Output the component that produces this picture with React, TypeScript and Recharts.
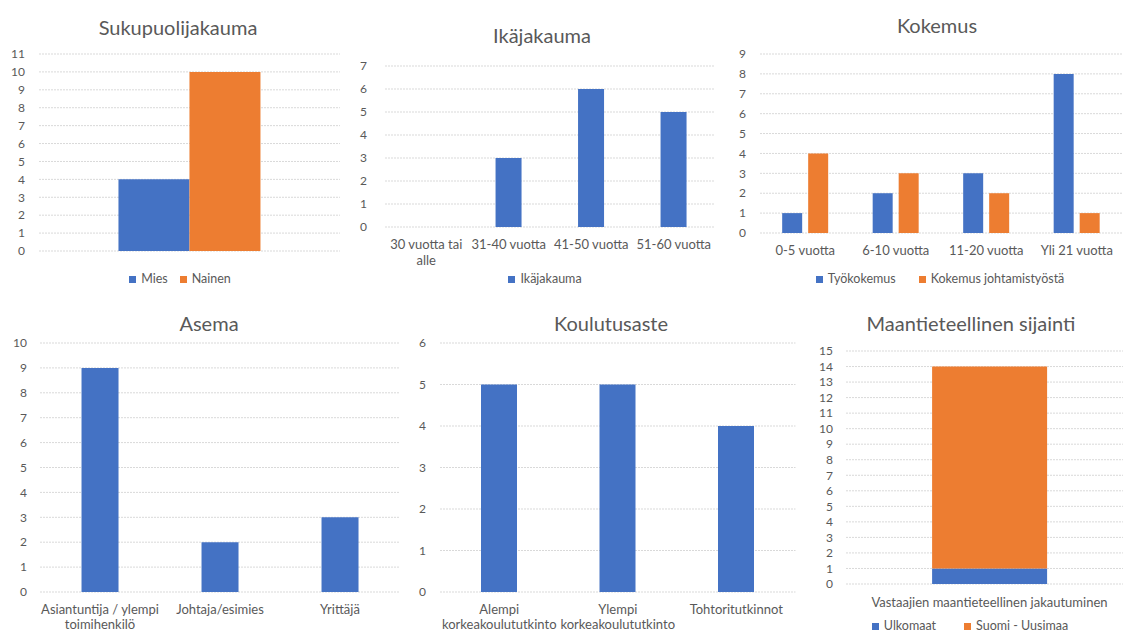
import React from "react";
import { BarChart, Bar, XAxis, YAxis, CartesianGrid } from "recharts";

const BLUE = "#4472C4";
const ORANGE = "#ED7D31";
const TEXT = "#595959";
const GRID = "#D9D9D9";
const FONT = "Lato, Carlito, Calibri, sans-serif";

// Sukupuolijakauma
const genderSeries = ["Mies", "Nainen"];
const genderValues = [4, 10];
const genderTicks = [0, 1, 2, 3, 4, 5, 6, 7, 8, 9, 10, 11];

// Ikäjakauma
const ageCategories = ["30 vuotta tai\nalle", "31-40 vuotta", "41-50 vuotta", "51-60 vuotta"];
const ageValues = [0, 3, 6, 5];
const ageTicks = [0, 1, 2, 3, 4, 5, 6, 7];

// Kokemus
const expCategories = ["0-5 vuotta", "6-10 vuotta", "11-20 vuotta", "Yli 21 vuotta"];
const expSeries = ["Työkokemus", "Kokemus johtamistyöstä"];
const workExp = [1, 2, 3, 8];
const leadExp = [4, 3, 2, 1];
const expTicks = [0, 1, 2, 3, 4, 5, 6, 7, 8, 9];

// Asema
const roleCategories = ["Asiantuntija / ylempi\ntoimihenkilö", "Johtaja/esimies", "Yrittäjä"];
const roleValues = [9, 2, 3];
const roleTicks = [0, 1, 2, 3, 4, 5, 6, 7, 8, 9, 10];

// Koulutusaste
const eduCategories = ["Alempi\nkorkeakoulututkinto", "Ylempi\nkorkeakoulututkinto", "Tohtoritutkinnot"];
const eduValues = [5, 5, 4];
const eduTicks = [0, 1, 2, 3, 4, 5, 6];

// Maantieteellinen sijainti
const geoCategories = ["Vastaajien maantieteellinen jakautuminen"];
const geoSeries = ["Ulkomaat", "Suomi - Uusimaa"];
const geoAbroad = [1];
const geoUusimaa = [13];
const geoTicks = [0, 1, 2, 3, 4, 5, 6, 7, 8, 9, 10, 11, 12, 13, 14, 15];

const genderData = [{ name: "", Mies: genderValues[0], Nainen: genderValues[1] }];
const ageData = ageCategories.map((name, i) => ({ name, value: ageValues[i] }));
const expData = expCategories.map((name, i) => ({ name, work: workExp[i], lead: leadExp[i] }));
const roleData = roleCategories.map((name, i) => ({ name, value: roleValues[i] }));
const eduData = eduCategories.map((name, i) => ({ name, value: eduValues[i] }));
const geoData = geoCategories.map((name, i) => ({ name, abroad: geoAbroad[i], uusimaa: geoUusimaa[i] }));

function WrapTick({ x, y, payload, lineGap = 16 }: any) {
  const lines = String(payload.value).split("\n");
  return (
    <text x={x} y={y} textAnchor="middle" fill={TEXT} fontSize={13} fontFamily={FONT}>
      {lines.map((l, i) => (
        <tspan key={i} x={x} dy={i === 0 ? "0.71em" : lineGap}>
          {l}
        </tspan>
      ))}
    </text>
  );
}

function axes(ticks: number[], yWidth: number, yTickMargin: number, xHeight: number, xTickMargin: number, showX = true, lineGap = 16) {
  return [
    <CartesianGrid key="g" vertical={false} stroke={GRID} strokeDasharray="2 1" />,
    <XAxis
      key="x"
      dataKey="name"
      height={xHeight}
      axisLine={false}
      tickLine={false}
      tickSize={0}
      tickMargin={xTickMargin}
      interval={0}
      tick={showX ? <WrapTick lineGap={lineGap} /> : false}
    />,
    <YAxis
      key="y"
      width={yWidth}
      domain={[0, ticks[ticks.length - 1]]}
      ticks={ticks}
      interval={0}
      axisLine={false}
      tickLine={false}
      tickSize={0}
      tickMargin={yTickMargin}
      tick={{ fill: TEXT, fontSize: 12, fontFamily: FONT }}
    />,
  ];
}

function Title({ text, cx, cy }: { text: string; cx: number; cy: number }) {
  return (
    <div
      style={{
        position: "absolute",
        left: cx - 200,
        top: cy - 12,
        width: 400,
        textAlign: "center",
        fontSize: 20,
        lineHeight: "24px",
        color: TEXT,
      }}
    >
      {text}
    </div>
  );
}

function LegendRow({ items, cx, cy, gap }: { items: { name: string; color: string }[]; cx: number; cy: number; gap: number }) {
  return (
    <div
      style={{
        position: "absolute",
        left: cx - 300,
        top: cy - 8,
        width: 600,
        display: "flex",
        justifyContent: "center",
        alignItems: "center",
        fontSize: 12.5,
        lineHeight: "16px",
        color: TEXT,
      }}
    >
      {items.map((it, i) => (
        <div key={it.name} style={{ display: "flex", alignItems: "center", marginLeft: i === 0 ? 0 : gap }}>
          <span style={{ width: 7, height: 7, background: it.color, marginRight: 5, display: "inline-block" }} />
          <span>{it.name}</span>
        </div>
      ))}
    </div>
  );
}

function Box({ left, top, children }: { left: number; top: number; children: React.ReactNode }) {
  return <div style={{ position: "absolute", left, top }}>{children}</div>;
}

export default function App() {
  return (
    <div
      style={{
        position: "absolute",
        left: 0,
        top: 0,
        width: 1123,
        height: 633,
        overflow: "hidden",
        background: "#ffffff",
        fontFamily: FONT,
      }}
    >
      {/* Sukupuolijakauma */}
      <Title text="Sukupuolijakauma" cx={178} cy={27} />
      <Box left={0} top={40}>
        <BarChart width={340} height={231} data={genderData} margin={{ top: 14, right: 0, bottom: 0, left: 0 }} barCategoryGap="26.4%" barGap={0}>
          {axes(genderTicks, 39, 14, 20, 0, false)}
          <Bar dataKey="Mies" fill={BLUE} isAnimationActive={false} />
          <Bar dataKey="Nainen" fill={ORANGE} isAnimationActive={false} />
        </BarChart>
      </Box>
      <LegendRow items={[{ name: genderSeries[0], color: BLUE }, { name: genderSeries[1], color: ORANGE }]} cx={180} cy={279} gap={12} />

      {/* Ikäjakauma */}
      <Title text="Ikäjakauma" cx={542} cy={35} />
      <Box left={345} top={50}>
        <BarChart width={370} height={217} data={ageData} margin={{ top: 16, right: 0, bottom: 0, left: 0 }} barCategoryGap="34%">
          {axes(ageTicks, 40, 18, 40, 13)}
          <Bar dataKey="value" fill={BLUE} isAnimationActive={false} />
        </BarChart>
      </Box>
      <LegendRow items={[{ name: "Ikäjakauma", color: BLUE }]} cx={545} cy={279} gap={0} />

      {/* Kokemus */}
      <Title text="Kokemus" cx={937} cy={25} />
      <Box left={720} top={40}>
        <BarChart width={402} height={223} data={expData} margin={{ top: 14, right: 0, bottom: 0, left: 0 }} barCategoryGap="24.5%" barGap={6}>
          {axes(expTicks, 40, 14, 30, 13)}
          <Bar dataKey="work" fill={BLUE} isAnimationActive={false} />
          <Bar dataKey="lead" fill={ORANGE} isAnimationActive={false} />
        </BarChart>
      </Box>
      <LegendRow items={[{ name: expSeries[0], color: BLUE }, { name: expSeries[1], color: ORANGE }]} cx={940} cy={279} gap={23} />

      {/* Asema */}
      <Title text="Asema" cx={209} cy={323} />
      <Box left={0} top={330}>
        <BarChart width={400} height={303} data={roleData} margin={{ top: 13, right: 0, bottom: 0, left: 0 }} barCategoryGap="34.6%">
          {axes(roleTicks, 40, 13, 41, 13, true, 15)}
          <Bar dataKey="value" fill={BLUE} isAnimationActive={false} />
        </BarChart>
      </Box>

      {/* Koulutusaste */}
      <Title text="Koulutusaste" cx={611} cy={323} />
      <Box left={400} top={330}>
        <BarChart width={395.5} height={303} data={eduData} margin={{ top: 13, right: 0, bottom: 0, left: 0 }} barCategoryGap="34.6%">
          {axes(eduTicks, 40, 14, 41, 13, true, 15)}
          <Bar dataKey="value" fill={BLUE} isAnimationActive={false} />
        </BarChart>
      </Box>

      {/* Maantieteellinen sijainti */}
      <Title text="Maantieteellinen sijainti" cx={971} cy={323} />
      <Box left={800} top={330}>
        <BarChart width={333} height={284} data={geoData} margin={{ top: 21, right: 0, bottom: 0, left: 0 }} barCategoryGap="30%">
          {axes(geoTicks, 46, 13, 30, 14)}
          <Bar dataKey="abroad" stackId="a" fill={BLUE} isAnimationActive={false} />
          <Bar dataKey="uusimaa" stackId="a" fill={ORANGE} isAnimationActive={false} />
        </BarChart>
      </Box>
      <LegendRow items={[{ name: geoSeries[0], color: BLUE }, { name: geoSeries[1], color: ORANGE }]} cx={970} cy={626} gap={28} />
    </div>
  );
}
